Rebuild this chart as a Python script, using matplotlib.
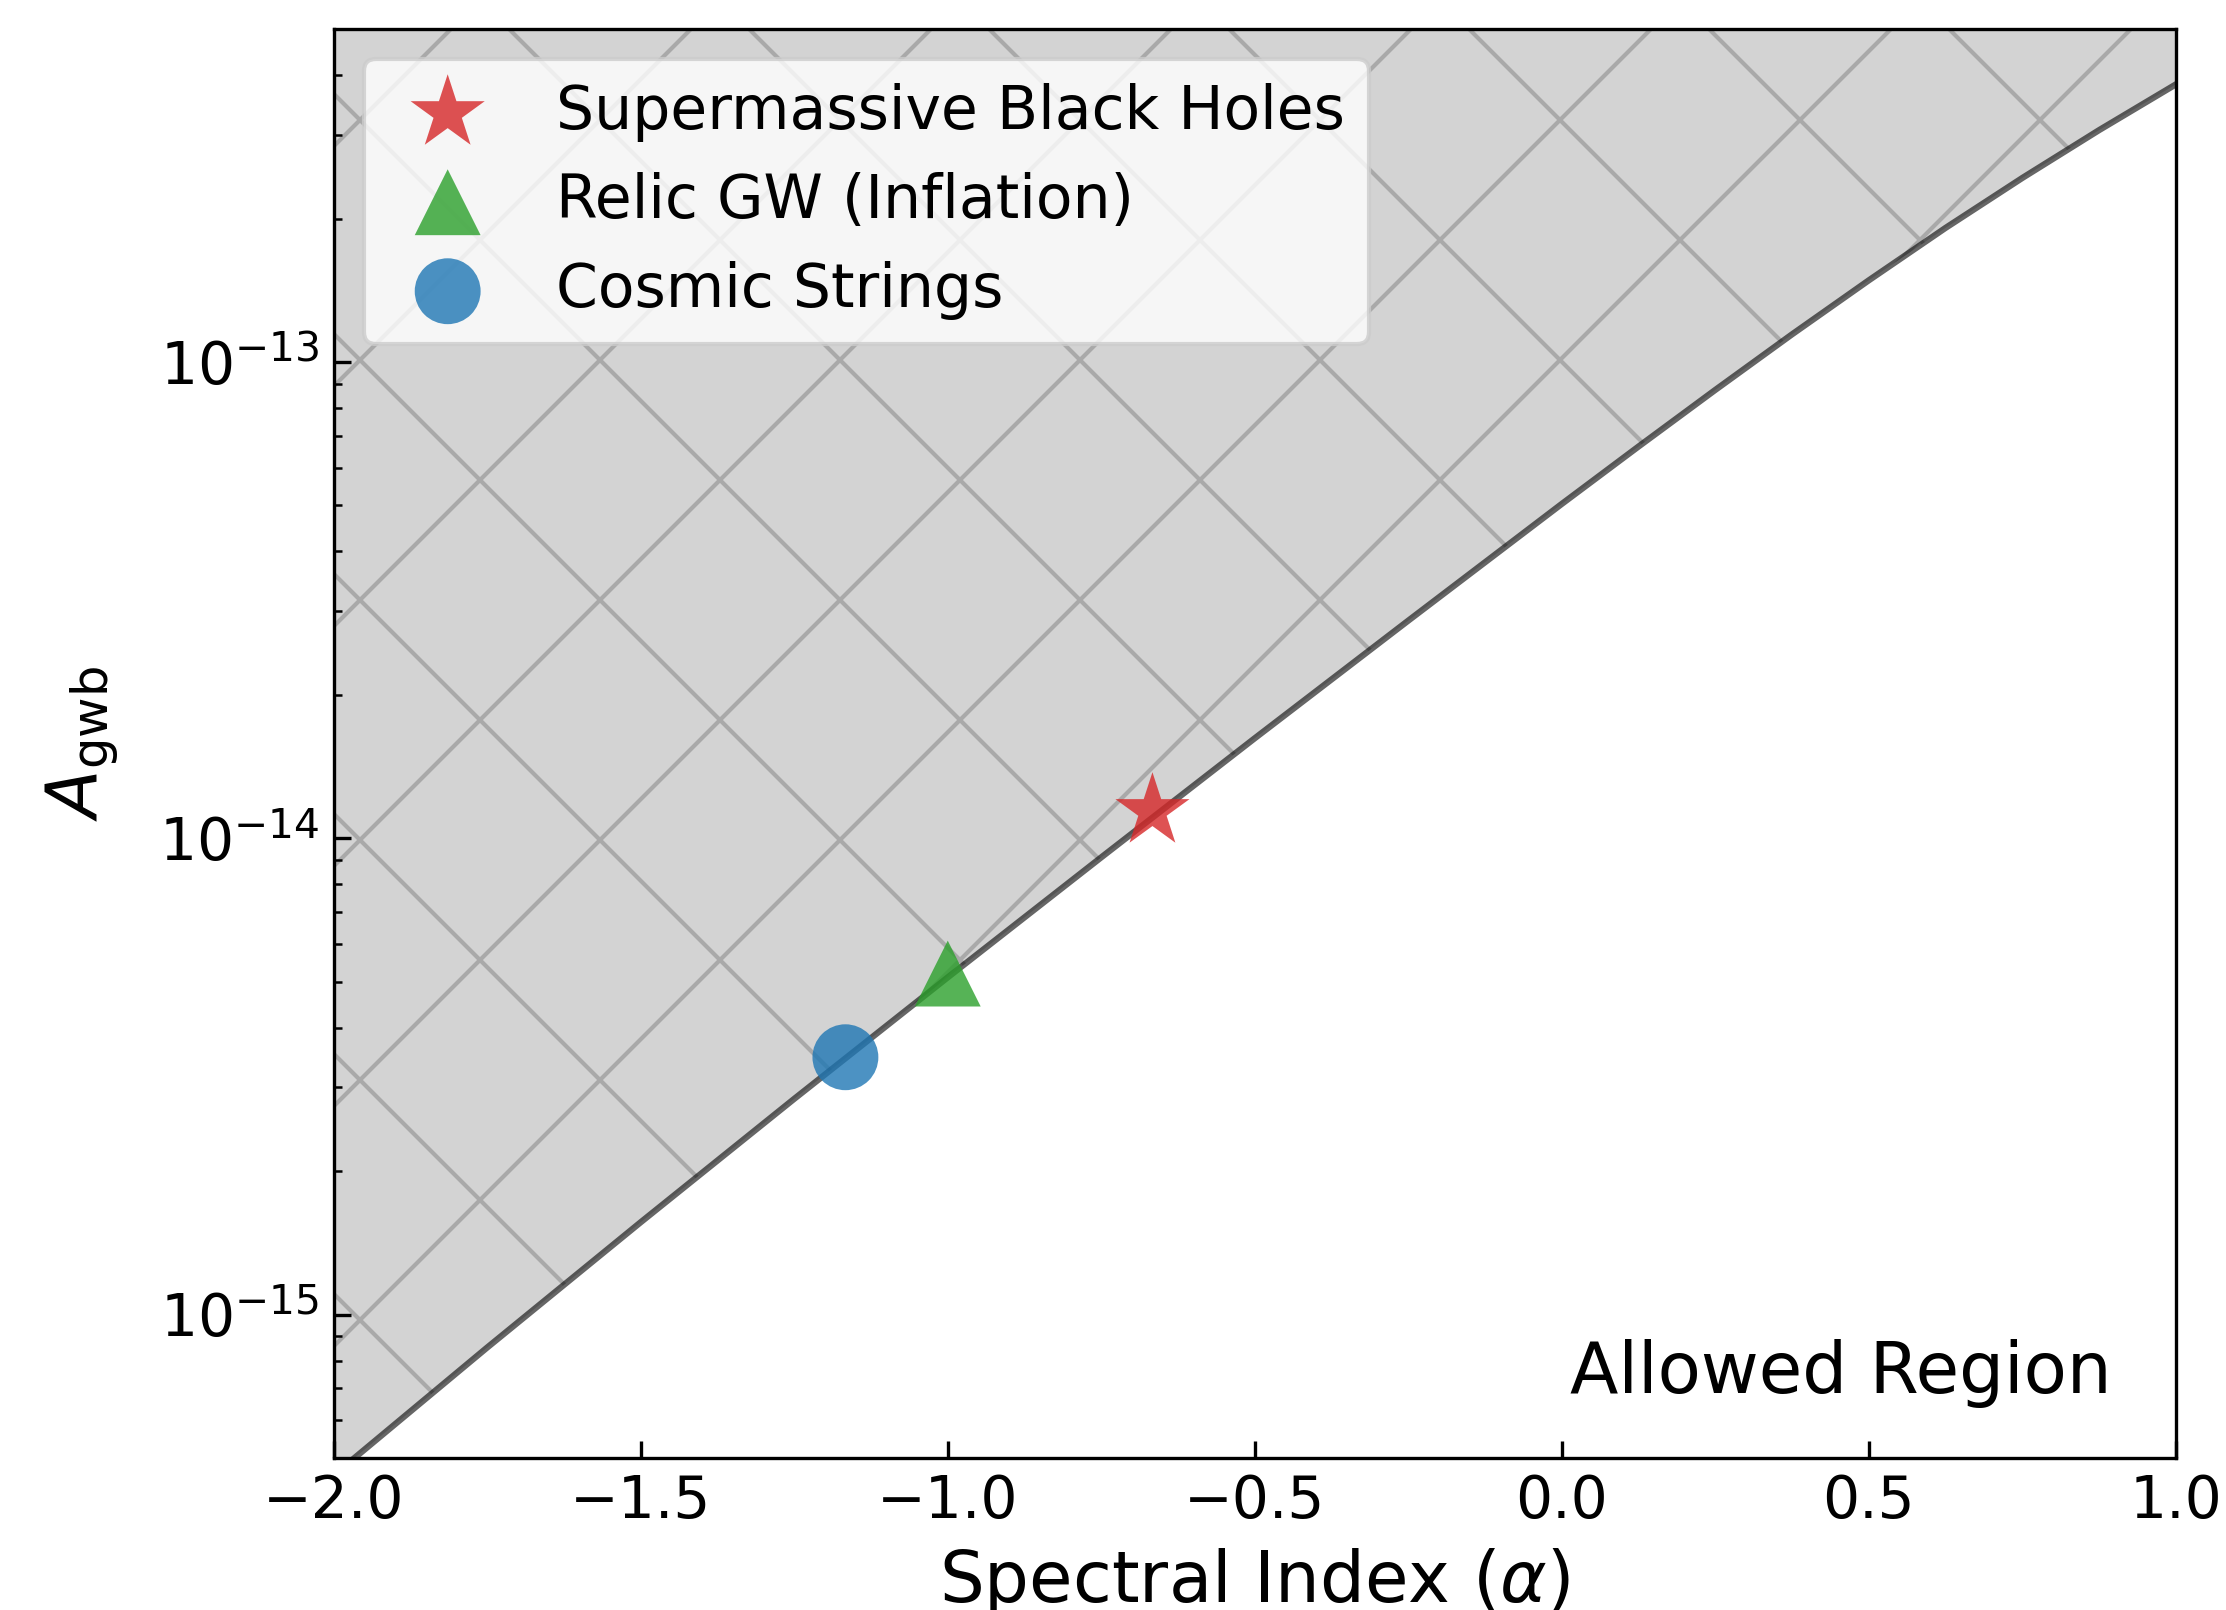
import matplotlib
matplotlib.use('Agg')
import matplotlib.pyplot as plt

# upper limit curve
alpha_curve = [-2.0, -1.75, -1.5, -1.25, -1.0, -0.75, -0.5, -0.25, 0.0,
               0.125, 0.25, 0.375, 0.5, 0.625, 0.75, 0.875, 1.0]
amp_curve = [4.60e-16, 8.53e-16, 1.563e-15, 2.838e-15, 5.105e-15, 9.12e-15, 1.622e-14,
             2.864e-14, 5.035e-14, 6.645e-14, 8.737e-14, 1.143e-13, 1.484e-13,
             1.912e-13, 2.434e-13, 3.067e-13, 3.826e-13]

# source models
labels = ['Supermassive Black Holes', 'Relic GW (Inflation)', 'Cosmic Strings']
alpha_src = [-2 / 3, -1.0, -7 / 6]
amp_src = [1.14e-14, 5.2e-15, 3.47e-15]
markers = ['*', '^', 'o']
colors = ['tab:red', 'tab:green', 'tab:blue']
sizes = [350, 250, 250]

# sizes are chosen as for 300 dpi, figure is drawn at 720 dpi (coarser hatch)
dpi = 720
k = 300 / dpi

plt.rcParams.update({
    'font.family': 'DejaVu Sans',
    'font.size': 14 * k,
    'axes.linewidth': 0.8 * k,
    'axes.labelpad': 4 * k,
    'lines.linewidth': 1.5 * k,
    'patch.linewidth': 1.0 * k,
    'hatch.linewidth': 1.0 * k,
    'hatch.color': 'darkgray',
    'xtick.direction': 'in',
    'ytick.direction': 'in',
    'xtick.major.size': 4 * k,
    'ytick.major.size': 4 * k,
    'xtick.minor.size': 2 * k,
    'ytick.minor.size': 2 * k,
    'xtick.major.width': 0.8 * k,
    'ytick.major.width': 0.8 * k,
    'xtick.minor.width': 0.6 * k,
    'ytick.minor.width': 0.6 * k,
    'xtick.major.pad': 3.5 * k,
    'ytick.major.pad': 3.5 * k,
    'legend.fontsize': 14.4 * k,
})

fig = plt.figure(figsize=(2226 / dpi, 1610 / dpi), dpi=dpi)
ax = fig.add_axes([0.1499, 0.0944, 0.8276, 0.8876])

# excluded region above the limit
ax.fill_between(alpha_curve, amp_curve, 1e-12, facecolor='lightgray',
                edgecolor='darkgray', hatch='x', linewidth=0, zorder=1)
ax.plot(alpha_curve, amp_curve, color='black', alpha=0.6, zorder=2)

for a, amp, m, c, s, lab in zip(alpha_src, amp_src, markers, colors, sizes, labels):
    ax.scatter(a, amp, marker=m, color=c, s=s * k * k, alpha=0.8,
               edgecolors='none', zorder=3, label=lab)

ax.set_yscale('log')
ax.set_xlim(-2, 1)
ax.set_ylim(5e-16, 5e-13)

ax.set_xlabel(r'Spectral Index ($\alpha$)', fontsize=17 * k)
ax.set_ylabel(r'$A_{\rm gwb}$', fontsize=17 * k, labelpad=9 * k)

ax.text(0.965, 0.035, 'Allowed Region', transform=ax.transAxes,
        ha='right', va='bottom', fontsize=17 * k)

ax.legend(loc='upper left')

fig.savefig('out.png', dpi=dpi)
